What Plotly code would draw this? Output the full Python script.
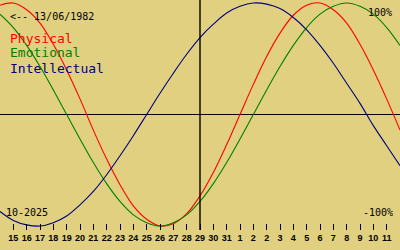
import plotly.graph_objects as go

# day offsets from 15 Oct 2025 (index 0) ; -1 = 14 Oct, 29 = 13 Nov
day_index = [-1, 0, 1, 2, 3, 4, 5, 6, 7, 8, 9, 10, 11, 12, 13, 14, 15, 16, 17, 18,
             19, 20, 21, 22, 23, 24, 25, 26, 27, 28, 29]

physical = [0.98, 1.00, 0.94, 0.82, 0.63, 0.40, 0.14, -0.14, -0.40, -0.63, -0.82,
            -0.94, -1.00, -0.98, -0.89, -0.73, -0.52, -0.27, 0.00, 0.27, 0.52,
            0.73, 0.89, 0.98, 1.00, 0.94, 0.82, 0.63, 0.40, 0.14, -0.14]

emotional = [0.90, 0.78, 0.62, 0.43, 0.22, 0.00, -0.22, -0.43, -0.62, -0.78, -0.90,
             -0.97, -1.00, -0.97, -0.90, -0.78, -0.62, -0.43, -0.22, 0.00, 0.22,
             0.43, 0.62, 0.78, 0.90, 0.97, 1.00, 0.97, 0.90, 0.78, 0.62]

intellectual = [-0.87, -0.95, -0.99, -1.00, -0.97, -0.91, -0.81, -0.69, -0.54, -0.37,
                -0.19, 0.00, 0.19, 0.37, 0.54, 0.69, 0.81, 0.91, 0.97, 1.00, 0.99,
                0.95, 0.87, 0.76, 0.62, 0.46, 0.28, 0.10, -0.10, -0.28, -0.46]

tick_values = [0, 1, 2, 3, 4, 5, 6, 7, 8, 9, 10, 11, 12, 13, 14, 15, 16, 17, 18, 19,
               20, 21, 22, 23, 24, 25, 26, 27, 28]
tick_labels = ["15", "16", "17", "18", "19", "20", "21", "22", "23", "24", "25", "26",
               "27", "28", "29", "30", "31", "1", "2", "2", "3", "4", "5", "6", "7",
               "8", "9", "10", "11"]

today_index = 14
series_names = ["Physical", "Emotional", "Intellectual"]
series_colors = ["#ff0000", "#008000", "#000080"]

BG = "#e0d080"
MONO = "DejaVu Sans Mono, Liberation Mono, monospace"

fig = go.Figure()
for name, vals, col in zip(series_names, [physical, emotional, intellectual], series_colors):
    fig.add_trace(go.Scatter(x=day_index, y=vals, mode="lines", name=name,
                             line=dict(color=col, width=1.1, shape="spline"),
                             hoverinfo="skip"))

fig.add_shape(type="line", xref="x", yref="paper", x0=today_index, x1=today_index,
              y0=0.08, y1=1.0, line=dict(color="black", width=1.4))

fig.update_layout(
    width=400, height=250,
    margin=dict(l=0, r=0, t=0, b=0),
    paper_bgcolor=BG, plot_bgcolor=BG,
    showlegend=False,
    xaxis=dict(range=[-1, 29], domain=[0, 1], showgrid=False, zeroline=False,
               showline=False, ticks="inside", ticklen=6, tickwidth=1,
               tickcolor="black", tickvals=tick_values, ticktext=tick_labels,
               tickfont=dict(family="Liberation Sans, Arial, sans-serif", size=9,
                             color="black", weight="bold"),
               ticklabelstandoff=1),
    yaxis=dict(range=[-1.0359, 1.0269], domain=[0.08, 1], showgrid=False,
               zeroline=True, zerolinecolor="black", zerolinewidth=1.4,
               showticklabels=False, ticks=""),
)

def ann(text, x, y, color="black", size=10, xanchor="left"):
    fig.add_annotation(text=text, x=x, y=y, xref="paper", yref="paper",
                       showarrow=False, xanchor=xanchor, yanchor="middle",
                       font=dict(family=MONO, size=size, color=color), borderpad=0)

ann("&lt;-- 13/06/1982", 0.022, 1 - 16 / 250)
ann("Physical", 0.022, 1 - 38 / 250, series_colors[0], 13)
ann("Emotional", 0.022, 1 - 53 / 250, series_colors[1], 13)
ann("Intellectual", 0.022, 1 - 68 / 250, series_colors[2], 13)
ann("100%", 0.9825, 1 - 12 / 250, xanchor="right")
ann("-100%", 0.985, 1 - 212 / 250, xanchor="right")
ann("10-2025", 0.0125, 1 - 212 / 250)

fig.write_html("out.html")
